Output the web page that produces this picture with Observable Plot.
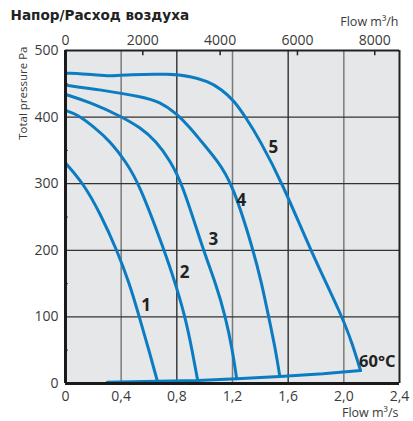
<!DOCTYPE html>
<html><head><meta charset="utf-8">
<script src="https://cdn.jsdelivr.net/npm/d3@7"></script>
<script src="https://cdn.jsdelivr.net/npm/@observablehq/plot@0.6"></script>
<style>body{margin:0;background:#fff;}</style>
</head><body><div id="chart"></div>
<script>
// ---- data ----
const title = "Напор/Расход воздуха";
const flowTicks = [0, 0.4, 0.8, 1.2, 1.6, 2.0, 2.4];          // m³/s
const flowHourTicks = [0, 2000, 4000, 6000, 8000];             // m³/h
const pressureTicks = [0, 100, 200, 300, 400, 500];            // Pa
const pressureMinor = [50, 150, 250, 350, 450];
const gridFlowLight = [0.4, 1.2, 2.0];
const gridFlowDark = [0.8, 1.6];
const gridPressure = [100, 200, 300, 400];

// curves: [flow m³/s, pressure Pa]
const curve1 = [[0,331],[0.13,300],[0.25,255],[0.37,200],[0.46,150],[0.53,100],[0.60,50],[0.66,3.5]];
const curve2 = [[0,410],[0.085,404],[0.2,386],[0.32,364],[0.43,334],[0.53,300],[0.71,200],[0.79,150],[0.86,100],[0.91,50],[0.95,4.5]];
const curve3 = [[0,434],[0.18,422],[0.40,401],[0.54,384],[0.65,364],[0.75,335],[0.84,300],[0.99,200],[1.08,150],[1.15,100],[1.20,50],[1.23,7]];
const curve4 = [[0,448],[0.25,441],[0.54,431],[0.68,423],[0.80,405],[0.90,383],[0.97,365],[1.09,335],[1.20,300],[1.35,200],[1.41,150],[1.46,100],[1.51,50],[1.54,10.5]];
const curve5 = [[0,466],[0.2,464],[0.31,461],[0.45,464],[0.75,465],[0.9,461],[1.02,454],[1.12,442],[1.21,425],[1.30,398],[1.39,368],[1.56,300],[1.76,200],[1.99,100],[2.06,60],[2.12,19.5]];
const baseLine = [[0.3,2],[0.66,3.5],[0.95,4.5],[1.23,7],[1.54,10.5],[1.85,14.5],[2.12,19.5]];
const curveNames = ["1","2","3","4","5"];
const curveLabelPos = [[0.58,117],[0.855,166],[1.063,216],[1.264,275],[1.494,354]];
const tempLabel = "60°C";
const tempLabelPos = [2.24, 32];

// ---- build ----
const curves = [curve1, curve2, curve3, curve4, curve5];
const lineData = curves.flatMap((c, i) => c.map(([x, y]) => ({series: curveNames[i], x, y})));
const labelData = curveNames.map((n, i) => ({n, x: curveLabelPos[i][0], y: curveLabelPos[i][1]}));
const blue = "#0b7cc1";
const fmtComma = d => d === 0 ? "0" : d.toFixed(1).replace(".", ",");

const plot = Plot.plot({
  width: 413,
  height: 421,
  marginLeft: 65,
  marginRight: 14,
  marginTop: 50,
  marginBottom: 38,
  x: {domain: [0, 2.4]},
  y: {domain: [0, 500]},
  style: {fontFamily: "'Open Sans', sans-serif", fontSize: "14px", color: "#3a3a3a", background: "#fff"},
  marks: [
    Plot.frame({fill: "#e6e7e9", stroke: null}),
    Plot.ruleX(gridFlowLight, {stroke: "#7a7a7a", strokeWidth: 1.5}),
    Plot.ruleX(gridFlowDark, {stroke: "#222", strokeWidth: 1.3}),
    Plot.ruleY(gridPressure, {stroke: "#333", strokeWidth: 1.3}),
    Plot.ruleX(flowHourTicks.slice(1), {x: d => d / 3600, y1: 500, y2: 492, stroke: "#222", strokeWidth: 1.5}),
    Plot.ruleY(pressureMinor, {x1: 0, x2: 0.02, stroke: "#333", strokeWidth: 1.2}),
    Plot.ruleX([2.4], {stroke: "#222", strokeWidth: 2}),
    Plot.ruleY([500], {stroke: "#222", strokeWidth: 2}),
    Plot.line(baseLine, {x: d => d[0], y: d => d[1], stroke: blue, strokeWidth: 3}),
    Plot.line(lineData, {x: "x", y: "y", z: "series", stroke: blue, strokeWidth: 3, curve: "basis"}),
    Plot.ruleX([0], {stroke: "#1a1a1a", strokeWidth: 3}),
    Plot.ruleY([0], {stroke: "#1a1a1a", strokeWidth: 3}),
    Plot.text(labelData, {x: "x", y: "y", text: "n", fontWeight: "bold", fontSize: 17, fill: "#222"}),
    Plot.text([tempLabel], {x: tempLabelPos[0], y: tempLabelPos[1], fontWeight: "bold", fontSize: 16.5, fill: "#222"}),
    Plot.axisY({anchor: "left", ticks: pressureTicks, tickSize: 0, tickPadding: 7, label: null}),
    Plot.axisX({anchor: "bottom", ticks: flowTicks, tickSize: 0, tickPadding: 8, tickFormat: fmtComma, label: null}),
    Plot.axisX({anchor: "top", ticks: flowHourTicks.map(d => d / 3600), tickSize: 0, tickPadding: 6, tickFormat: d => String(Math.round(d * 3600)), label: null}),
    Plot.text(["Flow m³/s"], {frameAnchor: "bottom-right", dx: -1, dy: 33, textAnchor: "end", fontSize: 12.5, fill: "#3a3a3a"}),
    Plot.text(["Flow m³/h"], {frameAnchor: "top-right", dx: -1, dy: -33, textAnchor: "end", fontSize: 12.5, fill: "#3a3a3a"}),
    Plot.text(["Total pressure Pa"], {frameAnchor: "top-left", dx: -47, dy: -4, rotate: -90, textAnchor: "end", fontSize: 11.5, fill: "#3a3a3a"}),
    Plot.text([title], {frameAnchor: "top-left", dx: -55, dy: -40, textAnchor: "start", fontWeight: "bold", fontSize: 13.6, fill: "#222", fontFamily: "'DejaVu Sans', sans-serif"})
  ]
});
document.getElementById("chart").appendChild(plot);
</script></body></html>
